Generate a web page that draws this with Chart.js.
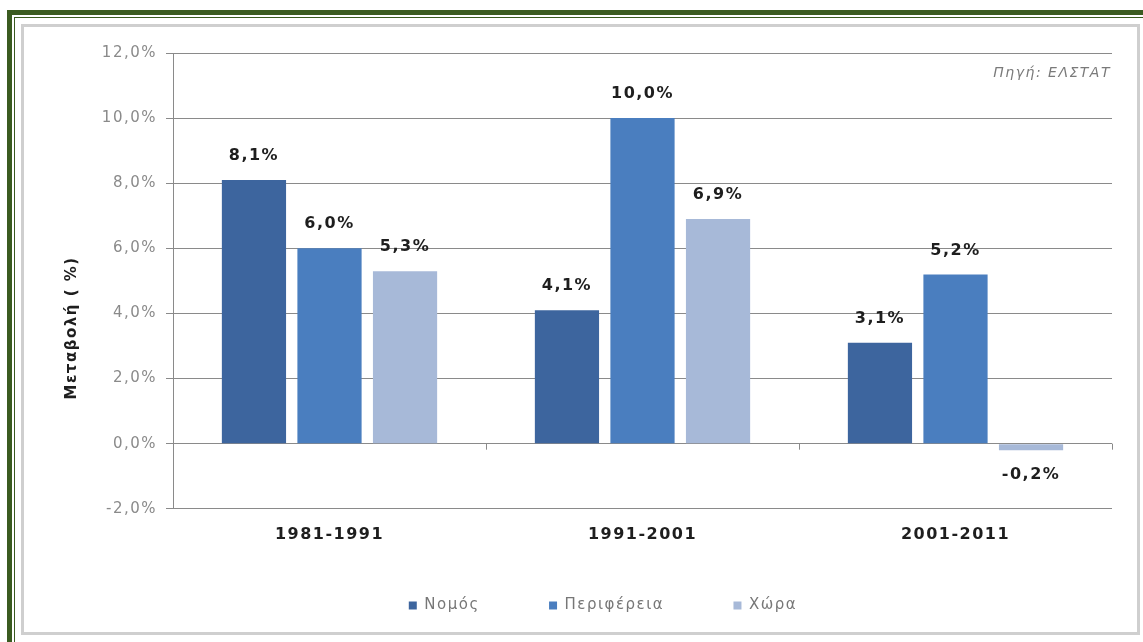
<!DOCTYPE html>
<html lang="el">
<head>
  <meta charset="UTF-8">
  <title>Μεταβολή πληθυσμού</title>
  <script src="https://cdn.jsdelivr.net/npm/chart.js"></script>
  <style>
    body { margin: 0; background: #fff; width: 1143px; height: 642px; overflow: hidden; position: relative; }
    .frame1 { position: absolute; left: 7px; top: 10px; width: 1150px; height: 650px; border: 5px solid #3b5b20; }
    .frame2 { position: absolute; left: 14px; top: 17px; width: 1150px; height: 650px; border: 1px solid #3b5b20; }
    .box { position: absolute; left: 21px; top: 24px; width: 1113px; height: 605px; border: 3px solid #cfcfcf; background: #fff; }
    #wrap { position: absolute; left: 0; top: 0; width: 1143px; height: 642px; }
  </style>
</head>
<body>
<div class="frame1"></div>
<div class="frame2"></div>
<div class="box"></div>
<div id="wrap"><canvas id="chart"></canvas></div>

<script>
  const periods = ['1981-1991', '1991-2001', '2001-2011'];
  const nomos = [8.1, 4.1, 3.1];
  const perifereia = [6.0, 10.0, 5.2];
  const chora = [5.3, 6.9, -0.2];
  const seriesNames = ['Νομός', 'Περιφέρεια', 'Χώρα'];
  const sourceText = 'Πηγή: ΕΛΣΤΑΤ';
  const yTitle = 'Μεταβολή ( %)';

  const FONT = "'DejaVu Sans', Verdana, sans-serif";
  const SPACING = '1.5px';

  function pct(v) {
    return v.toFixed(1).replace('.', ',') + '%';
  }

  // a little letter spacing, like the wide Excel rendering
  const spacing = {
    id: 'spacing',
    beforeLayout(chart) { chart.ctx.letterSpacing = SPACING; },
    beforeDraw(chart) { chart.ctx.letterSpacing = SPACING; }
  };

  const extras = {
    id: 'extras',
    afterDatasetsDraw(chart) {
      const ctx = chart.ctx;
      const area = chart.chartArea;
      const x = chart.scales.x;
      const y = chart.scales.y;
      ctx.save();

      // value labels
      ctx.font = 'bold 16px ' + FONT;
      ctx.fillStyle = '#1e1e1e';
      ctx.textAlign = 'center';
      ctx.textBaseline = 'middle';
      chart.data.datasets.forEach((ds, di) => {
        chart.getDatasetMeta(di).data.forEach((bar, i) => {
          const v = ds.data[i];
          ctx.fillText(pct(v), bar.x, v >= 0 ? bar.y - 24 : bar.y + 25);
        });
      });

      // small ticks on the zero line between categories
      const zero = y.getPixelForValue(0);
      const step = x.width / periods.length;
      ctx.strokeStyle = '#8a8a8a';
      ctx.lineWidth = 1;
      for (let i = 1; i <= periods.length; i++) {
        const px = Math.round(x.left + i * step) + 0.5;
        ctx.beginPath();
        ctx.moveTo(px, zero);
        ctx.lineTo(px, zero + 6);
        ctx.stroke();
      }

      // source
      ctx.font = 'italic 14px ' + FONT;
      ctx.fillStyle = '#7a7a7a';
      ctx.textAlign = 'right';
      ctx.fillText(sourceText, area.right - 1, area.top + 20);

      // y title
      ctx.font = 'bold 15px ' + FONT;
      ctx.fillStyle = '#1e1e1e';
      ctx.translate(area.left - 101, (area.top + area.bottom) / 2 + 47);
      ctx.rotate(-Math.PI / 2);
      ctx.textAlign = 'center';
      ctx.fillText(yTitle, 0, 0);
      ctx.restore();
    }
  };

  new Chart(document.getElementById('chart'), {
    type: 'bar',
    data: {
      labels: periods,
      datasets: [
        { label: seriesNames[0], data: nomos, backgroundColor: '#3d659e' },
        { label: seriesNames[1], data: perifereia, backgroundColor: '#4a7ebf' },
        { label: seriesNames[2], data: chora, backgroundColor: '#a7b9d8' }
      ]
    },
    options: {
      responsive: true,
      maintainAspectRatio: false,
      animation: false,
      layout: { padding: { left: 94, right: 31, top: 53, bottom: 19 } },
      datasets: { bar: { categoryPercentage: 0.724, barPercentage: 0.85 } },
      plugins: {
        tooltip: { enabled: false },
        legend: {
          position: 'bottom',
          labels: {
            boxWidth: 8, boxHeight: 8, padding: 38,
            color: '#777', font: { family: FONT, size: 15 },
            // wider gaps between items without a taller legend box
            generateLabels(chart) {
              const items = Chart.defaults.plugins.legend.labels.generateLabels(chart);
              items.forEach((it, i) => {
                if (i < items.length - 1) it.text += '\u00a0\u00a0\u00a0\u00a0\u00a0';
              });
              return items;
            }
          }
        }
      },
      scales: {
        x: {
          grid: { display: false, drawTicks: false },
          border: { display: false },
          ticks: { color: '#1e1e1e', padding: 16, font: { family: FONT, size: 16, weight: 'bold' } }
        },
        y: {
          min: -2, max: 12,
          afterFit(scale) { scale.width = 79; },
          grid: { color: '#8a8a8a', tickLength: 7, tickColor: '#8a8a8a' },
          border: { color: '#8a8a8a' },
          ticks: {
            stepSize: 2, padding: 9, color: '#8a8a8a',
            font: { family: FONT, size: 15 },
            callback: v => pct(v)
          }
        }
      }
    },
    plugins: [spacing, extras]
  });
</script>
</body>
</html>
